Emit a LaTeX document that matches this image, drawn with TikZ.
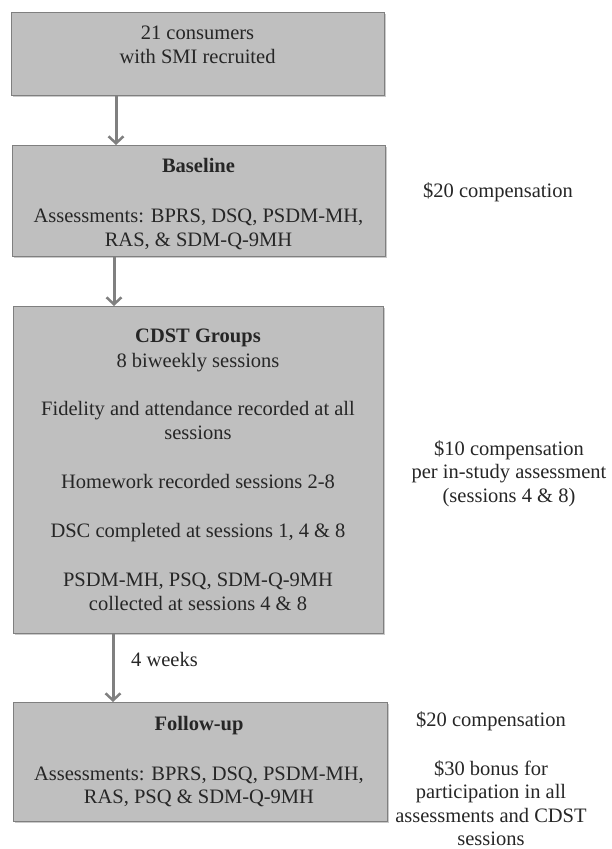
\documentclass[tikz,border=0pt]{standalone}
\usepackage{fontspec}
\setmainfont{Liberation Serif}
\usetikzlibrary{arrows.meta,shadows}
\definecolor{boxfill}{HTML}{BFBFBF}
\definecolor{boxline}{HTML}{7F7F7F}
\definecolor{arrgray}{HTML}{808080}
\definecolor{txt}{HTML}{262626}
\begin{document}
\begin{tikzpicture}[x=1pt,y=-1pt,
  box/.style={draw=boxline, line width=1pt, fill=boxfill, anchor=north west, inner sep=0pt,
    drop shadow={shadow xshift=1.5pt, shadow yshift=-1.5pt, opacity=0.35, fill=black!60}},
  ln/.style={anchor=base, inner sep=0pt, text=txt, font=\fontsize{20.5}{23.5}\selectfont},
  lnb/.style={ln, font=\fontsize{20.5}{23.5}\selectfont\bfseries},
  arr/.style={draw=arrgray, line width=3pt, -{Straight Barb[length=7pt,width=15pt,line width=2.5pt]}}]
\useasboundingbox (0,0) rectangle (612,849);
% boxes
\node[box, minimum width=373pt, minimum height=83pt] (b1) at (11,12) {};
\node[box, minimum width=373pt, minimum height=111pt] (b2) at (12,145) {};
\node[box, minimum width=370pt, minimum height=327pt] (b3) at (13,306) {};
\node[box, minimum width=374pt, minimum height=119pt] (b4) at (13,702) {};
% arrows
\coordinate (a1) at (116,0);
\coordinate (a2) at (114,0);
\coordinate (a3) at (113,0);
\draw[arr] (b1.south -| a1) -- (b2.north -| a1);
\draw[arr] (b2.south -| a2) -- (b3.north -| a2);
\draw[arr] (b3.south -| a3) -- (b4.north -| a3);
% box 1 text
\node[ln] (t11) at (197.5,39) {21 consumers};
\node[ln] (t12) at (197.5,63) {with SMI recruited};
% box 2 text
\node[lnb] (t21) at (198.5,172) {Baseline};
\node[ln] (t22) at (198.5,222) {Assessments: BPRS, DSQ, PSDM-MH,};
\node[ln] (t23) at (198.5,246) {RAS, \& SDM-Q-9MH};
% box 3 text
\node[lnb] (t31) at (198,342) {CDST Groups};
\node[ln] (t32) at (198,367) {8 biweekly sessions};
\node[ln] (t33) at (198,415) {Fidelity and attendance recorded at all};
\node[ln] (t34) at (198,439) {sessions};
\node[ln] (t35) at (198,488) {Homework recorded sessions 2-8};
\node[ln] (t36) at (198,537) {DSC completed at sessions 1, 4 \& 8};
\node[ln] (t37) at (198,586) {PSDM-MH, PSQ, SDM-Q-9MH};
\node[ln] (t38) at (198,610) {collected at sessions 4 \& 8};
% box 4 text
\node[lnb] (t41) at (199,730) {Follow-up};
\node[ln] (t42) at (199,780) {Assessments: BPRS, DSQ, PSDM-MH,};
\node[ln] (t43) at (199,803) {RAS, PSQ \& SDM-Q-9MH};
% arrow label
\node[ln, anchor=base west] (w4) at (131,666) {4 weeks};
% right side notes
\node[ln] (r1) at (498,197) {\$20 compensation};
\node[ln] (r21) at (509,455) {\$10 compensation};
\node[ln] (r22) at (509,478) {per in-study assessment};
\node[ln] (r23) at (509,502) {(sessions 4 \& 8)};
\node[ln] (r31) at (491,726) {\$20 compensation};
\node[ln] (r41) at (491,775) {\$30 bonus for};
\node[ln] (r42) at (491,798) {participation in all};
\node[ln] (r43) at (491,822) {assessments and CDST};
\node[ln] (r44) at (491,845) {sessions};
\end{tikzpicture}
\end{document}
